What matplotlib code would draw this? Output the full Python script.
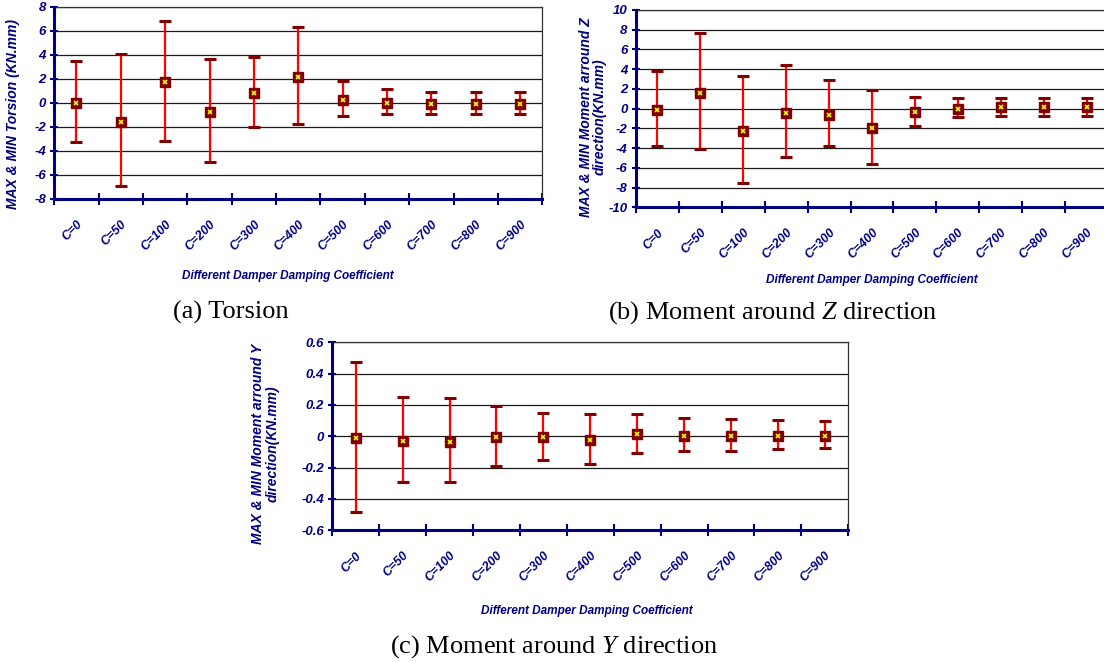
import numpy as np
import matplotlib
matplotlib.use("Agg")
from matplotlib import pyplot as plt

# ==================== Donnees ====================

categories = ["C=0", "C=50", "C=100", "C=200", "C=300", "C=400",
              "C=500", "C=600", "C=700", "C=800", "C=900"]

# (a) Torsion
torsion_max = [3.45, 4.06, 6.81, 3.65, 3.79, 6.30, 1.82, 1.12, 0.87, 0.87, 0.87]
torsion_min = [-3.29, -6.95, -3.15, -4.89, -1.98, -1.79, -1.07, -0.96, -0.96, -0.96, -0.96]
torsion_moy = [0.00, -1.62, 1.73, -0.73, 0.79, 2.18, 0.21, -0.01, -0.12, -0.12, -0.12]

# (b) Moment autour de Z
momz_max = [3.83, 7.70, 3.29, 4.40, 2.86, 1.92, 1.18, 1.04, 1.04, 1.04, 1.04]
momz_min = [-3.76, -4.07, -7.53, -4.87, -3.76, -5.58, -1.71, -0.87, -0.71, -0.71, -0.71]
momz_moy = [-0.17, 1.61, -2.25, -0.47, -0.60, -1.98, -0.34, -0.03, 0.13, 0.13, 0.13]

# (c) Moment autour de Y
momy_max = [0.477, 0.251, 0.245, 0.191, 0.149, 0.140, 0.140, 0.119, 0.110, 0.104, 0.100]
momy_min = [-0.485, -0.289, -0.289, -0.187, -0.151, -0.179, -0.109, -0.091, -0.091, -0.083, -0.077]
momy_moy = [-0.013, -0.028, -0.036, -0.006, -0.006, -0.026, 0.013, 0.002, 0.002, 0.002, 0.002]

yticks_a = [8, 6, 4, 2, 0, -2, -4, -6, -8]
yticks_b = [10, 8, 6, 4, 2, 0, -2, -4, -6, -8, -10]
yticks_c = [0.6, 0.4, 0.2, 0, -0.2, -0.4, -0.6]
ylabels_c = ["0.6", "0.4", "0.2", "0", "-0.2", "-0.4", "-0.6"]

# ==================== Style ====================

plt.rcParams['font.family'] = ['Liberation Sans', 'DejaVu Sans']
plt.rcParams['mathtext.fontset'] = 'custom'
plt.rcParams['mathtext.rm'] = 'Liberation Serif'
plt.rcParams['mathtext.it'] = 'Liberation Serif:italic'

NAVY = '#000080'
ROUGE_FONCE = '#800000'
W, H = 1104, 662

fig = plt.figure(figsize=(W / 100, H / 100), dpi=100)


def axes_pixels(x0, y0, x1, y1):
    # positionne un axe en coordonnees pixels (origine en haut a gauche)
    return fig.add_axes([x0 / W, 1 - y1 / H, (x1 - x0) / W, (y1 - y0) / H])


def tracer(ax, vmax, vmin, vmoy, yticks, ylabels, taille_marq):
    x = np.arange(len(categories))
    ax.set_xlim(-0.5, len(categories) - 0.5)
    ax.set_ylim(min(yticks), max(yticks))

    # grille horizontale
    for v in yticks:
        ax.axhline(v, color='#1a1a1a', lw=0.9, zorder=1)

    # barres min / max
    ax.vlines(x, vmin, vmax, color='red', lw=1.6, zorder=2)
    ax.plot(x, vmax, ls='none', marker='_', ms=8.5, mew=2.2, color=ROUGE_FONCE, zorder=3)
    ax.plot(x, vmin, ls='none', marker='_', ms=8.5, mew=2.2, color=ROUGE_FONCE, zorder=3)
    # valeur moyenne
    ax.plot(x, vmoy, ls='none', marker='s', ms=taille_marq, color=ROUGE_FONCE,
            mec=ROUGE_FONCE, zorder=4)
    ax.plot(x, vmoy, ls='none', marker='x', ms=taille_marq * 0.4, mew=1.2,
            color='#ffff00', zorder=5)

    ax.set_yticks(yticks)
    ax.set_yticklabels(ylabels, fontsize=9.5, fontweight='bold', fontstyle='italic', color=NAVY)
    ax.set_xticks(x)
    ax.set_xticklabels(categories, rotation=45, ha='right', va='top', rotation_mode='anchor',
                       fontsize=9, fontweight='bold', fontstyle='italic', color=NAVY)
    ax.set_xticks(np.arange(-0.5, len(categories), 1), minor=True)
    ax.tick_params(axis='x', which='major', length=0, pad=14)
    ax.tick_params(axis='x', which='minor', direction='inout', length=8, width=1.5, color=NAVY)
    ax.tick_params(axis='y', direction='inout', length=6, width=1.5, color=NAVY, pad=3)

    for s in ['left', 'bottom']:
        ax.spines[s].set_color(NAVY)
        ax.spines[s].set_linewidth(2.2)
        ax.spines[s].set_zorder(6)
    for s in ['top', 'right']:
        ax.spines[s].set_color('#333333')
        ax.spines[s].set_linewidth(0.9)


ax_a = axes_pixels(54.3, 6.7, 542.3, 199)
tracer(ax_a, torsion_max, torsion_min, torsion_moy, yticks_a,
       [str(v) for v in yticks_a], 7.5)

ax_b = axes_pixels(636, 10, 1108, 207.3)
tracer(ax_b, momz_max, momz_min, momz_moy, yticks_b,
       [str(v) for v in yticks_b], 7.5)

ax_c = axes_pixels(332.3, 342.3, 848.3, 530.3)
tracer(ax_c, momy_max, momy_min, momy_moy, yticks_c, ylabels_c, 6.5)


def texte(x, y, s, **kw):
    fig.text(x / W, 1 - y / H, s, ha='center', va='center', **kw)


style_lab = dict(fontweight='bold', fontstyle='italic', color=NAVY)

# titres des axes
texte(13, 114, "MAX & MIN Torsion (KN.mm)", rotation=90, fontsize=10, **style_lab)
texte(593, 117, "MAX & MIN Moment arround Z\ndirection(KN.mm)", rotation=90,
      fontsize=10, linespacing=1.0, multialignment='center', **style_lab)
texte(265, 444, "MAX & MIN Moment arround Y\ndirection(KN.mm)", rotation=90,
      fontsize=10, linespacing=1.05, multialignment='center', **style_lab)

texte(288, 276, "Different Damper Damping Coefficient", fontsize=8.5, **style_lab)
texte(872, 280, "Different Damper Damping Coefficient", fontsize=8.5, **style_lab)
texte(587, 611, "Different Damper Damping Coefficient", fontsize=8.5, **style_lab)

# legendes des sous-figures
texte(231, 312, "(a) Torsion", fontsize=19, family='Liberation Serif')
texte(773, 313, "(b) Moment around $Z$ direction", fontsize=19, family='Liberation Serif')
texte(554, 647, "(c) Moment around $Y$ direction", fontsize=19, family='Liberation Serif')

fig.savefig("out.png", dpi=100)
